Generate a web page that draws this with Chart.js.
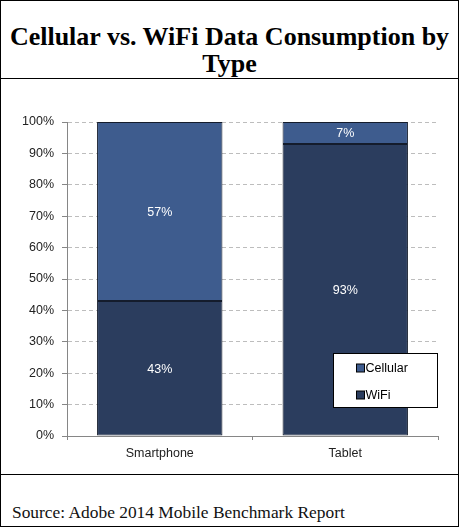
<!DOCTYPE html>
<html>
<head>
<meta charset="utf-8">
<script src="https://cdn.jsdelivr.net/npm/chart.js@4/dist/chart.umd.min.js"></script>
<style>
  html, body { margin:0; padding:0; background:#fff; }
  #frame { position:absolute; left:0; top:0; width:459px; height:527px; border:1px solid #000; box-sizing:border-box; background:#fff; overflow:hidden; }
  #title { position:absolute; left:0; width:457px; top:22px; text-align:center; font-family:"Liberation Serif", serif; font-weight:bold; font-size:26px; line-height:27px; color:#000; }
  #hr1 { position:absolute; left:0; top:77px; width:457px; height:1px; background:#000; }
  #hr2 { position:absolute; left:0; top:473px; width:457px; height:1px; background:#000; }
  #source { position:absolute; left:11px; top:501px; font-family:"Liberation Serif", serif; font-size:17.4px; line-height:20px; color:#111; white-space:nowrap; }
  #c { position:absolute; left:0; top:79px; }
</style>
</head>
<body>
<div id="frame">
  <div id="title">Cellular vs. WiFi Data Consumption by<br>Type</div>
  <div id="hr1"></div>
  <div id="hr2"></div>
  <div id="source">Source: Adobe 2014 Mobile Benchmark Report</div>
</div>
<canvas id="c" width="459" height="395"></canvas>
<script>
const categories = ['Smartphone', 'Tablet'];
const cellularValues = [57, 7];
const wifiValues = [43, 93];
const seriesNames = ['Cellular', 'WiFi'];
const yTickStep = 10;
const yMax = 100;

const COL_CELL = '#3E5C8E';
const COL_WIFI = '#2B3D5E';

const dataLabelPlugin = {
  id: 'dataLabels',
  afterDatasetsDraw(chart) {
    const ctx = chart.ctx;
    ctx.save();
    ctx.font = '12.5px "Liberation Sans", Arial, sans-serif';
    ctx.fillStyle = '#ffffff';
    ctx.textAlign = 'center';
    ctx.textBaseline = 'middle';
    chart.data.datasets.forEach((ds, di) => {
      const meta = chart.getDatasetMeta(di);
      meta.data.forEach((bar, i) => {
        const p = bar.getProps(['x', 'y', 'base'], true);
        const cy = (p.y + p.base) / 2;
        ctx.fillText(ds.data[i] + '%', p.x, cy + 1);
      });
    });
    ctx.restore();
  }
};

const boxLegendPlugin = {
  id: 'boxLegend',
  afterDraw(chart) {
    const ctx = chart.ctx;
    const area = chart.chartArea;
    const x0 = area.right - 104.5, y0 = 274.5, w = 104, h = 54;
    ctx.save();
    ctx.fillStyle = '#fff';
    ctx.fillRect(x0, y0, w, h);
    ctx.strokeStyle = '#000';
    ctx.lineWidth = 1;
    ctx.strokeRect(x0, y0, w, h);
    const items = chart.data.datasets.slice().reverse();
    ctx.font = '12.5px "Liberation Sans", Arial, sans-serif';
    ctx.textBaseline = 'middle';
    ctx.textAlign = 'left';
    items.forEach((ds, k) => {
      const cy = y0 + 14.5 + k * 27;
      ctx.fillStyle = ds.backgroundColor;
      ctx.fillRect(x0 + 23, cy - 4, 8, 8);
      ctx.strokeStyle = '#000';
      ctx.strokeRect(x0 + 23, cy - 4, 8, 8);
      ctx.fillStyle = '#000';
      ctx.fillText(ds.label, x0 + 32, cy + 0.5);
    });
    ctx.restore();
  }
};

new Chart(document.getElementById('c'), {
  type: 'bar',
  data: {
    labels: categories,
    datasets: [
      { label: seriesNames[1], data: wifiValues, backgroundColor: COL_WIFI, borderColor: '#141c2c', borderWidth: 1, borderSkipped: false, barPercentage: 0.676, categoryPercentage: 1 },
      { label: seriesNames[0], data: cellularValues, backgroundColor: COL_CELL, borderColor: '#141c2c', borderWidth: 1, borderSkipped: false, barPercentage: 0.676, categoryPercentage: 1 }
    ]
  },
  options: {
    responsive: false,
    animation: false,
    devicePixelRatio: 1,
    layout: { padding: { top: 43, right: 21, left: 0, bottom: 0 } },
    plugins: { legend: { display: false }, title: { display: false }, tooltip: { enabled: false } },
    scales: {
      x: {
        stacked: true,
        afterFit(scale) { scale.height = 38; },
        grid: { display: true, drawOnChartArea: false, offset: true, tickLength: 4, color: '#868686', tickColor: '#868686' },
        border: { display: true, color: '#868686', width: 1 },
        ticks: { color: '#222', padding: 6, font: { family: '"Liberation Sans", Arial, sans-serif', size: 12.5 } }
      },
      y: {
        stacked: true,
        min: 0,
        max: yMax,
        afterFit(scale) { scale.width = 67; },
        ticks: { stepSize: yTickStep, color: '#222', padding: 8, callback: v => v + '%', font: { family: '"Liberation Sans", Arial, sans-serif', size: 12.5 } },
        grid: { color: '#BDBDBD', tickColor: '#868686', tickLength: 5, tickBorderDash: [] },
        border: { display: true, color: '#868686', width: 1, dash: [4, 3] }
      }
    }
  },
  plugins: [dataLabelPlugin, boxLegendPlugin]
});
</script>
</body>
</html>
